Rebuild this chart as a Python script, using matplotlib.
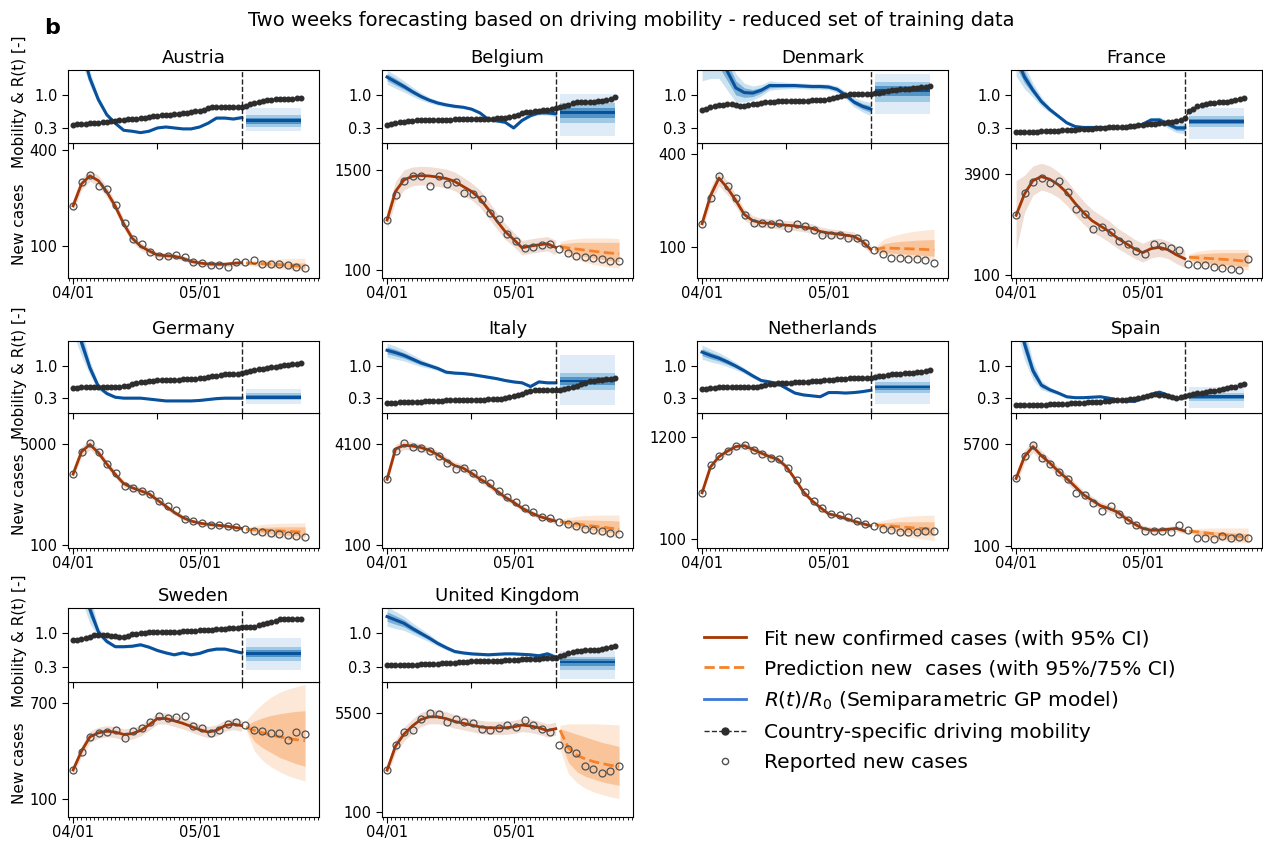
import numpy as np
import matplotlib.pyplot as plt
from matplotlib.lines import Line2D
from matplotlib.ticker import MultipleLocator

# day 0 = 04/01, forecast window starts after day 40
obs_day = np.linspace(0, 55, 28)
fit_day = np.arange(0, 41, 2)
fc_day = np.arange(41, 56, 2)
mob_day = np.arange(55)
rt_day = np.arange(0, 41, 2)
rt_fc_span = [41, 54]

countries = ["Austria", "Belgium", "Denmark", "France", "Germany",
             "Italy", "Netherlands", "Spain", "Sweden", "United Kingdom"]
case_tick = [400, 1500, 400, 3900, 5000, 4100, 1200, 5700, 700, 5500]

# ---------------- Austria
at_reported = [226, 302, 323, 289, 279, 228, 172, 123, 108, 81, 68, 68, 71, 66,
               49, 47, 42, 42, 35, 49, 49, 55, 45, 45, 44, 42, 34, 31]
at_fit = [226, 295, 320, 305, 270, 225, 170, 125, 100, 85, 72, 70, 68, 62, 52, 47, 44, 43, 43, 46, 48]
at_ci = [20, 18, 17, 17, 17, 16, 15, 13, 12, 10, 9, 9, 9, 8, 8, 8, 8, 8, 8, 8, 8]
at_fc_med = [47, 46, 45, 44, 42, 40, 38, 36]
at_fc_lo75 = [44, 41, 39, 37, 35, 33, 31, 29]
at_fc_hi75 = [50, 51, 51, 51, 50, 49, 48, 47]
at_fc_lo95 = [42, 37, 34, 31, 28, 26, 24, 22]
at_fc_hi95 = [52, 55, 57, 59, 60, 61, 62, 62]
at_mobility = [0.37, 0.38, 0.38, 0.39, 0.40, 0.41, 0.41, 0.42, 0.43, 0.44,
               0.45, 0.46, 0.47, 0.48, 0.49, 0.50, 0.51, 0.52, 0.53, 0.55,
               0.56, 0.57, 0.57, 0.58, 0.59, 0.60, 0.61, 0.62, 0.63, 0.65,
               0.66, 0.69, 0.72, 0.75, 0.75, 0.75, 0.74, 0.74, 0.74, 0.75,
               0.75, 0.77, 0.80, 0.83, 0.85, 0.87, 0.89, 0.90, 0.91, 0.91,
               0.92, 0.92, 0.92, 0.93, 0.93]
at_rt = [2.8, 2.0, 1.35, 0.9, 0.58, 0.40, 0.25, 0.23, 0.20, 0.23, 0.30,
         0.32, 0.30, 0.28, 0.28, 0.32, 0.40, 0.51, 0.51, 0.49, 0.52]
at_rt_spread = [0.5, 0.3, 0.15, 0.08, 0.05, 0.03, 0.02, 0.02, 0.02, 0.02, 0.02,
                0.02, 0.02, 0.02, 0.02, 0.02, 0.02, 0.03, 0.03, 0.03, 0.03]
at_rt_fc = [0.23, 0.33, 0.45, 0.58, 0.72]

# ---------------- Belgium
be_reported = [802, 1149, 1350, 1411, 1420, 1280, 1411, 1303, 1336, 1177, 1163, 1093, 905, 812,
               601, 507, 414, 428, 451, 465, 400, 339, 297, 278, 264, 255, 236, 231]
be_fit = [800, 1200, 1360, 1410, 1420, 1415, 1400, 1380, 1340, 1270, 1200,
          1100, 950, 790, 640, 531, 414, 437, 455, 470, 418]
be_ci = [130, 140, 140, 130, 130, 130, 130, 130, 130, 130, 120,
         120, 120, 110, 110, 100, 100, 100, 100, 100, 100]
be_fc_med = [430, 410, 395, 380, 365, 350, 340, 330]
be_fc_lo75 = [400, 350, 320, 290, 270, 250, 235, 220]
be_fc_hi75 = [470, 480, 490, 490, 490, 490, 490, 490]
be_fc_lo95 = [380, 300, 250, 210, 180, 160, 140, 130]
be_fc_hi95 = [500, 530, 540, 550, 550, 550, 550, 540]
be_mobility = [0.37, 0.39, 0.40, 0.42, 0.43, 0.45, 0.45, 0.46, 0.46, 0.46,
               0.46, 0.46, 0.47, 0.47, 0.47, 0.47, 0.48, 0.48, 0.49, 0.49,
               0.50, 0.50, 0.50, 0.50, 0.50, 0.50, 0.51, 0.51, 0.52, 0.54,
               0.56, 0.58, 0.61, 0.63, 0.64, 0.66, 0.67, 0.68, 0.69, 0.70,
               0.72, 0.74, 0.77, 0.79, 0.82, 0.84, 0.84, 0.85, 0.85, 0.86,
               0.87, 0.88, 0.90, 0.92, 0.95]
be_rt = [1.38, 1.28, 1.18, 1.07, 0.97, 0.89, 0.83, 0.79, 0.76, 0.74, 0.70,
         0.62, 0.48, 0.45, 0.42, 0.30, 0.46, 0.56, 0.62, 0.62, 0.60]
be_rt_spread = [0.15, 0.14, 0.12, 0.10, 0.08, 0.06, 0.05, 0.04, 0.04, 0.03, 0.03,
                0.03, 0.03, 0.03, 0.03, 0.03, 0.03, 0.03, 0.04, 0.05, 0.06]
be_rt_fc = [0.13, 0.40, 0.63, 0.82, 1.03]

# ---------------- Denmark
dk_reported = [175, 259, 330, 295, 257, 203, 178, 178, 173, 178, 162, 173, 167, 156,
               137, 138, 140, 130, 129, 113, 89, 77, 64, 63, 62, 62, 57, 48]
dk_fit = [175, 265, 322, 290, 250, 205, 185, 178, 176, 173, 170,
          168, 164, 160, 150, 145, 142, 138, 134, 118, 92]
dk_ci = [20, 25, 25, 22, 20, 18, 16, 15, 15, 15, 15, 15, 15, 15, 15, 14, 14, 14, 14, 14, 14]
dk_fc_med = [92, 97, 96, 95, 94, 93, 92, 90]
dk_fc_lo75 = [85, 82, 80, 78, 76, 74, 72, 70]
dk_fc_hi75 = [95, 110, 115, 118, 120, 122, 123, 124]
dk_fc_lo95 = [82, 75, 70, 66, 63, 60, 58, 56]
dk_fc_hi95 = [100, 125, 135, 142, 148, 152, 155, 157]
dk_mobility = [0.68, 0.71, 0.74, 0.76, 0.78, 0.79, 0.80, 0.80, 0.79, 0.77,
               0.76, 0.78, 0.80, 0.81, 0.83, 0.84, 0.85, 0.86, 0.87, 0.87,
               0.88, 0.88, 0.88, 0.88, 0.88, 0.88, 0.89, 0.89, 0.90, 0.90,
               0.91, 0.93, 0.96, 0.98, 0.99, 1.01, 1.02, 1.02, 1.03, 1.03,
               1.03, 1.04, 1.05, 1.07, 1.09, 1.10, 1.11, 1.12, 1.12, 1.13,
               1.14, 1.15, 1.16, 1.17, 1.18]
dk_rt = [1.9, 1.9, 1.85, 1.5, 1.15, 1.05, 1.04, 1.10, 1.20, 1.20, 1.20,
         1.20, 1.19, 1.18, 1.18, 1.17, 1.12, 1.00, 0.85, 0.76, 0.70]
dk_rt_spread = [0.6, 0.55, 0.5, 0.4, 0.3, 0.2, 0.15, 0.12, 0.10, 0.08, 0.07,
                0.06, 0.06, 0.06, 0.06, 0.06, 0.07, 0.08, 0.10, 0.12, 0.14]
dk_rt_fc = [0.59, 0.86, 1.10, 1.27, 1.44]

# ---------------- France
fr_reported = [2359, 3180, 3584, 3748, 3559, 3647, 3230, 2599, 2384, 1842, 1905, 1716, 1375, 1286,
               996, 895, 1261, 1185, 1122, 1034, 516, 491, 491, 428, 365, 352, 302, 706]
fr_fit = [2350, 3150, 3650, 3800, 3700, 3500, 3200, 2800, 2450, 2150, 1950,
          1750, 1500, 1300, 1100, 950, 1100, 1150, 1060, 870, 720]
fr_ci = [1300, 700, 550, 500, 500, 480, 470, 450, 430, 420, 400,
         400, 380, 370, 360, 350, 350, 340, 330, 330, 330]
fr_fc_med = [780, 760, 740, 720, 700, 680, 650, 620]
fr_fc_lo75 = [700, 600, 560, 530, 500, 480, 450, 430]
fr_fc_hi75 = [850, 900, 920, 940, 950, 950, 950, 950]
fr_fc_lo95 = [650, 480, 420, 380, 350, 330, 310, 300]
fr_fc_hi95 = [900, 1000, 1050, 1070, 1080, 1080, 1080, 1070]
fr_mobility = [0.21, 0.21, 0.21, 0.22, 0.22, 0.22, 0.23, 0.23, 0.23, 0.24,
               0.24, 0.25, 0.25, 0.26, 0.26, 0.27, 0.27, 0.28, 0.28, 0.29,
               0.30, 0.30, 0.31, 0.31, 0.32, 0.32, 0.33, 0.34, 0.35, 0.36,
               0.37, 0.38, 0.39, 0.39, 0.40, 0.41, 0.42, 0.43, 0.44, 0.47,
               0.51, 0.65, 0.71, 0.76, 0.79, 0.81, 0.82, 0.83, 0.84, 0.85,
               0.86, 0.88, 0.90, 0.91, 0.93]
fr_rt = [1.8, 1.38, 1.10, 0.86, 0.69, 0.55, 0.41, 0.33, 0.31, 0.31, 0.31,
         0.31, 0.31, 0.30, 0.31, 0.38, 0.47, 0.47, 0.38, 0.30, 0.30]
fr_rt_spread = [0.4, 0.25, 0.15, 0.10, 0.06, 0.04, 0.03, 0.02, 0.02, 0.02, 0.02,
                0.02, 0.02, 0.02, 0.03, 0.04, 0.05, 0.06, 0.08, 0.10, 0.12]
fr_rt_fc = [0.07, 0.32, 0.44, 0.56, 0.72]

# ---------------- Germany
de_reported = [3560, 4622, 5063, 4622, 4050, 3592, 2988, 2874, 2743, 2612, 2253, 2008, 1795, 1356,
               1274, 1193, 1111, 1078, 1029, 980, 915, 817, 751, 702, 654, 621, 539, 523]
de_fit = [3560, 4650, 5000, 4600, 4050, 3550, 3100, 2900, 2750, 2600, 2300,
          2000, 1700, 1450, 1280, 1180, 1120, 1080, 1040, 980, 920]
de_ci = [200, 250, 250, 200, 180, 170, 160, 160, 160, 160, 150,
         140, 130, 120, 110, 100, 100, 100, 100, 100, 100]
de_fc_med = [880, 860, 840, 820, 800, 780, 760, 740]
de_fc_lo75 = [840, 760, 700, 650, 620, 590, 560, 540]
de_fc_hi75 = [920, 960, 980, 990, 1000, 1000, 1000, 1000]
de_fc_lo95 = [800, 650, 560, 500, 460, 420, 400, 380]
de_fc_hi95 = [950, 1060, 1120, 1150, 1170, 1180, 1190, 1190]
de_mobility = [0.51, 0.52, 0.53, 0.54, 0.55, 0.55, 0.55, 0.55, 0.55, 0.55,
               0.55, 0.55, 0.56, 0.57, 0.60, 0.62, 0.64, 0.65, 0.66, 0.67,
               0.68, 0.68, 0.69, 0.69, 0.70, 0.70, 0.71, 0.71, 0.72, 0.72,
               0.73, 0.74, 0.76, 0.77, 0.78, 0.80, 0.81, 0.82, 0.83, 0.83,
               0.84, 0.86, 0.88, 0.90, 0.92, 0.93, 0.95, 0.97, 0.98, 0.99,
               1.01, 1.02, 1.03, 1.04, 1.06]
de_rt = [2.2, 1.5, 0.95, 0.55, 0.40, 0.32, 0.30, 0.30, 0.30, 0.28, 0.26,
         0.24, 0.24, 0.24, 0.24, 0.25, 0.27, 0.29, 0.30, 0.30, 0.30]
de_rt_spread = [0.5, 0.3, 0.15, 0.08, 0.04, 0.03, 0.02, 0.02, 0.02, 0.02, 0.02,
                0.02, 0.02, 0.02, 0.02, 0.02, 0.02, 0.03, 0.03, 0.03, 0.03]
de_rt_fc = [0.18, 0.25, 0.32, 0.40, 0.49]

# ---------------- Italy
it_reported = [2705, 3835, 4127, 3967, 3928, 3835, 3635, 3369, 3103, 3170, 2944, 2705, 2545, 2239,
               2014, 1801, 1575, 1415, 1216, 1176, 1043, 937, 884, 764, 711, 671, 578, 538]
it_fit = [2705, 3900, 4050, 4020, 3960, 3850, 3680, 3450, 3250, 3150, 2950,
          2720, 2520, 2250, 2000, 1800, 1570, 1400, 1250, 1150, 1060]
it_ci = [150, 180, 170, 160, 150, 150, 150, 150, 150, 150, 150,
         140, 140, 130, 130, 120, 120, 110, 110, 110, 110]
it_fc_med = [1040, 990, 950, 900, 860, 820, 780, 740]
it_fc_lo75 = [1000, 890, 820, 760, 700, 650, 610, 570]
it_fc_hi75 = [1080, 1100, 1110, 1110, 1100, 1090, 1080, 1060]
it_fc_lo95 = [960, 800, 700, 620, 550, 490, 440, 400]
it_fc_hi95 = [1120, 1200, 1250, 1280, 1290, 1300, 1300, 1300]
it_mobility = [0.20, 0.20, 0.20, 0.21, 0.21, 0.21, 0.22, 0.22, 0.22, 0.23,
               0.23, 0.23, 0.24, 0.24, 0.25, 0.25, 0.25, 0.26, 0.26, 0.26,
               0.27, 0.27, 0.27, 0.27, 0.28, 0.28, 0.28, 0.29, 0.30, 0.32,
               0.34, 0.36, 0.39, 0.43, 0.46, 0.47, 0.47, 0.47, 0.47, 0.47,
               0.47, 0.48, 0.49, 0.52, 0.55, 0.57, 0.60, 0.63, 0.66, 0.67,
               0.68, 0.70, 0.71, 0.72, 0.73]
it_rt = [1.33, 1.28, 1.22, 1.14, 1.06, 1.00, 0.94, 0.86, 0.84, 0.83, 0.81,
         0.78, 0.75, 0.72, 0.68, 0.65, 0.63, 0.55, 0.65, 0.63, 0.63]
it_rt_spread = [0.15, 0.14, 0.12, 0.10, 0.08, 0.06, 0.05, 0.04, 0.03, 0.03, 0.03,
                0.03, 0.03, 0.03, 0.03, 0.03, 0.03, 0.03, 0.03, 0.03, 0.03]
it_rt_fc = [0.15, 0.48, 0.67, 0.85, 1.22]

# ---------------- Netherlands
nl_reported = [599, 895, 998, 1053, 1108, 1116, 1064, 1024, 980, 962, 870, 742, 606, 511,
               437, 364, 360, 331, 294, 265, 239, 210, 192, 173, 173, 173, 184, 181]
nl_fit = [599, 880, 990, 1050, 1100, 1110, 1070, 1030, 990, 960, 880,
          750, 610, 515, 440, 370, 350, 320, 290, 265, 240]
nl_ci = [30, 35, 35, 35, 35, 35, 35, 35, 35, 30, 30, 30, 30, 25, 25, 25, 25, 25, 25, 25, 25]
nl_fc_med = [250, 245, 238, 230, 222, 215, 209, 203]
nl_fc_lo75 = [238, 215, 195, 180, 165, 155, 145, 135]
nl_fc_hi75 = [262, 275, 280, 285, 285, 285, 285, 285]
nl_fc_lo95 = [228, 190, 165, 140, 120, 105, 92, 82]
nl_fc_hi95 = [275, 300, 320, 335, 345, 350, 355, 357]
nl_mobility = [0.49, 0.50, 0.51, 0.52, 0.53, 0.54, 0.54, 0.54, 0.53, 0.53,
               0.53, 0.53, 0.54, 0.55, 0.56, 0.58, 0.60, 0.61, 0.62, 0.62,
               0.63, 0.63, 0.64, 0.64, 0.65, 0.65, 0.66, 0.67, 0.67, 0.68,
               0.69, 0.70, 0.71, 0.72, 0.72, 0.73, 0.73, 0.73, 0.73, 0.73,
               0.73, 0.75, 0.77, 0.78, 0.80, 0.82, 0.83, 0.83, 0.84, 0.84,
               0.85, 0.86, 0.87, 0.89, 0.90]
nl_rt = [1.29, 1.22, 1.16, 1.08, 0.99, 0.89, 0.78, 0.68, 0.65, 0.61, 0.51,
         0.41, 0.37, 0.35, 0.33, 0.42, 0.42, 0.41, 0.42, 0.44, 0.47]
nl_rt_spread = [0.15, 0.14, 0.12, 0.10, 0.08, 0.06, 0.05, 0.04, 0.03, 0.03, 0.03,
                0.03, 0.03, 0.02, 0.02, 0.02, 0.02, 0.02, 0.02, 0.02, 0.03]
nl_rt_fc = [0.17, 0.41, 0.54, 0.64, 0.85]

# ---------------- Spain
es_reported = [3798, 5054, 5663, 4906, 4592, 4130, 3742, 3003, 2873, 2448, 1986, 2263, 1857, 1488,
               1210, 933, 933, 896, 841, 1210, 988, 507, 507, 452, 618, 507, 600, 507]
es_fit = [3798, 5000, 5550, 5050, 4650, 4200, 3800, 3350, 2900, 2600, 2300,
          2150, 1950, 1600, 1300, 1050, 950, 950, 1000, 1050, 900]
es_ci = [350, 350, 320, 280, 260, 250, 250, 240, 230, 220, 210,
         200, 200, 190, 180, 170, 170, 160, 160, 160, 160]
es_fc_med = [900, 860, 800, 750, 700, 650, 600, 550]
es_fc_lo75 = [850, 720, 620, 540, 480, 430, 390, 350]
es_fc_hi75 = [950, 950, 920, 880, 850, 820, 790, 760]
es_fc_lo95 = [800, 600, 480, 400, 340, 300, 270, 250]
es_fc_hi95 = [1000, 1050, 1060, 1070, 1070, 1070, 1070, 1070]
es_mobility = [0.15, 0.15, 0.15, 0.15, 0.16, 0.16, 0.16, 0.16, 0.17, 0.17,
               0.17, 0.18, 0.18, 0.19, 0.19, 0.20, 0.20, 0.21, 0.21, 0.22,
               0.22, 0.23, 0.24, 0.25, 0.26, 0.27, 0.27, 0.28, 0.29, 0.30,
               0.32, 0.34, 0.36, 0.38, 0.37, 0.36, 0.35, 0.33, 0.31, 0.32,
               0.35, 0.36, 0.38, 0.40, 0.41, 0.43, 0.45, 0.46, 0.48, 0.49,
               0.51, 0.53, 0.55, 0.58, 0.60]
es_rt = [2.3, 1.47, 0.89, 0.58, 0.48, 0.41, 0.33, 0.31, 0.31, 0.32, 0.33,
         0.30, 0.26, 0.24, 0.23, 0.29, 0.38, 0.43, 0.36, 0.28, 0.31]
es_rt_spread = [0.5, 0.35, 0.2, 0.10, 0.06, 0.04, 0.03, 0.02, 0.02, 0.02, 0.02,
                0.02, 0.03, 0.03, 0.03, 0.03, 0.04, 0.04, 0.04, 0.04, 0.04]
es_rt_fc = [0.08, 0.24, 0.33, 0.41, 0.55]

# ---------------- Sweden
se_reported = [282, 395, 491, 512, 518, 534, 483, 524, 545, 580, 621, 610, 615, 621,
               555, 545, 516, 534, 569, 580, 565, 534, 528, 512, 512, 471, 518, 508]
se_fit = [282, 400, 490, 515, 525, 520, 505, 510, 530, 565, 605,
          605, 590, 575, 555, 535, 520, 530, 560, 570, 560]
se_ci = [30, 35, 35, 35, 35, 35, 35, 35, 35, 35, 35, 35, 35, 35, 35, 35, 35, 35, 35, 35, 35]
se_fc_med = [549, 530, 515, 500, 490, 480, 472, 467]
se_fc_lo75 = [541, 460, 420, 390, 360, 340, 320, 306]
se_fc_hi75 = [562, 590, 610, 625, 635, 643, 650, 654]
se_fc_lo95 = [531, 400, 340, 300, 270, 245, 228, 213]
se_fc_hi95 = [593, 650, 700, 740, 770, 790, 805, 819]
se_mobility = [0.86, 0.87, 0.88, 0.90, 0.93, 0.97, 0.97, 0.97, 0.97, 0.95,
               0.94, 0.93, 0.93, 0.95, 0.98, 0.99, 1.00, 1.01, 1.02, 1.02,
               1.03, 1.03, 1.03, 1.03, 1.03, 1.03, 1.04, 1.04, 1.05, 1.05,
               1.06, 1.06, 1.07, 1.07, 1.08, 1.08, 1.10, 1.11, 1.12, 1.12,
               1.13, 1.13, 1.14, 1.14, 1.17, 1.20, 1.22, 1.24, 1.26, 1.29,
               1.31, 1.31, 1.30, 1.30, 1.30]
se_rt = [2.6, 2.2, 1.5, 1.03, 0.83, 0.72, 0.72, 0.73, 0.76, 0.71, 0.64,
         0.59, 0.55, 0.59, 0.55, 0.58, 0.64, 0.67, 0.67, 0.63, 0.59]
se_rt_spread = [0.6, 0.5, 0.3, 0.10, 0.05, 0.03, 0.03, 0.03, 0.03, 0.03, 0.03,
                0.03, 0.03, 0.03, 0.03, 0.03, 0.03, 0.03, 0.03, 0.03, 0.03]
se_rt_fc = [0.23, 0.43, 0.57, 0.71, 0.90]

# ---------------- United Kingdom
uk_reported = [2389, 3766, 4445, 4606, 5196, 5518, 5428, 5017, 5160, 5017, 4964, 4660, 4570, 4713,
               4838, 4749, 5107, 4838, 4624, 4481, 3766, 3552, 3318, 2639, 2478, 2246, 2335, 2603]
uk_fit = [2389, 3700, 4350, 4800, 5150, 5300, 5300, 5200, 5050, 4950, 4850,
          4750, 4700, 4700, 4700, 4750, 4850, 4800, 4700, 4550, 4650]
uk_ci = [300, 360, 380, 380, 380, 380, 380, 380, 370, 360, 360,
         360, 360, 360, 360, 360, 360, 360, 360, 360, 360]
uk_fc_med = [4570, 3600, 3200, 3000, 2850, 2750, 2650, 2600]
uk_fc_lo75 = [4000, 2800, 2300, 2050, 1900, 1750, 1650, 1566]
uk_fc_hi75 = [4660, 4500, 4350, 4200, 4050, 3900, 3800, 3676]
uk_fc_lo95 = [3500, 2200, 1700, 1400, 1200, 1050, 930, 850]
uk_fc_hi95 = [4840, 4920, 4920, 4920, 4920, 4900, 4880, 4860]
uk_mobility = [0.33, 0.33, 0.33, 0.33, 0.34, 0.34, 0.34, 0.34, 0.35, 0.35,
               0.35, 0.36, 0.36, 0.37, 0.37, 0.38, 0.38, 0.39, 0.40, 0.40,
               0.41, 0.41, 0.41, 0.42, 0.42, 0.42, 0.43, 0.43, 0.44, 0.44,
               0.45, 0.45, 0.46, 0.46, 0.47, 0.47, 0.47, 0.48, 0.48, 0.48,
               0.49, 0.52, 0.55, 0.58, 0.60, 0.62, 0.63, 0.64, 0.65, 0.65,
               0.66, 0.68, 0.70, 0.71, 0.73]
uk_rt = [1.35, 1.28, 1.21, 1.10, 1.00, 0.90, 0.79, 0.70, 0.62, 0.59, 0.57,
         0.56, 0.55, 0.56, 0.57, 0.57, 0.56, 0.55, 0.53, 0.57, 0.50]
uk_rt_spread = [0.2, 0.18, 0.15, 0.12, 0.10, 0.08, 0.06, 0.05, 0.04, 0.03, 0.03,
                0.03, 0.03, 0.03, 0.03, 0.03, 0.03, 0.03, 0.04, 0.05, 0.05]
uk_rt_fc = [0.05, 0.23, 0.40, 0.51, 0.62]

series = [
    (at_reported, at_fit, at_ci, at_fc_med, at_fc_lo75, at_fc_hi75, at_fc_lo95, at_fc_hi95, at_mobility, at_rt, at_rt_spread, at_rt_fc),
    (be_reported, be_fit, be_ci, be_fc_med, be_fc_lo75, be_fc_hi75, be_fc_lo95, be_fc_hi95, be_mobility, be_rt, be_rt_spread, be_rt_fc),
    (dk_reported, dk_fit, dk_ci, dk_fc_med, dk_fc_lo75, dk_fc_hi75, dk_fc_lo95, dk_fc_hi95, dk_mobility, dk_rt, dk_rt_spread, dk_rt_fc),
    (fr_reported, fr_fit, fr_ci, fr_fc_med, fr_fc_lo75, fr_fc_hi75, fr_fc_lo95, fr_fc_hi95, fr_mobility, fr_rt, fr_rt_spread, fr_rt_fc),
    (de_reported, de_fit, de_ci, de_fc_med, de_fc_lo75, de_fc_hi75, de_fc_lo95, de_fc_hi95, de_mobility, de_rt, de_rt_spread, de_rt_fc),
    (it_reported, it_fit, it_ci, it_fc_med, it_fc_lo75, it_fc_hi75, it_fc_lo95, it_fc_hi95, it_mobility, it_rt, it_rt_spread, it_rt_fc),
    (nl_reported, nl_fit, nl_ci, nl_fc_med, nl_fc_lo75, nl_fc_hi75, nl_fc_lo95, nl_fc_hi95, nl_mobility, nl_rt, nl_rt_spread, nl_rt_fc),
    (es_reported, es_fit, es_ci, es_fc_med, es_fc_lo75, es_fc_hi75, es_fc_lo95, es_fc_hi95, es_mobility, es_rt, es_rt_spread, es_rt_fc),
    (se_reported, se_fit, se_ci, se_fc_med, se_fc_lo75, se_fc_hi75, se_fc_lo95, se_fc_hi95, se_mobility, se_rt, se_rt_spread, se_rt_fc),
    (uk_reported, uk_fit, uk_ci, uk_fc_med, uk_fc_lo75, uk_fc_hi75, uk_fc_lo95, uk_fc_hi95, uk_mobility, uk_rt, uk_rt_spread, uk_rt_fc),
]

# panel geometry in pixels
W, H = 1263, 842
col_x = [68, 382, 697, 1011]
col_w = 251
row_top = [70, 341, 608]
top_h = [73, 72, 74]
bot_h = [135, 135, 135]
case_ylim = [(0, 423), (-8, 1875), (0, 435), (0, 5060), (-30, 6530),
             (0, 5320), (0, 1464), (-30, 7400), (-13, 834), (-168, 7200)]

C_FIT = '#a63603'
C_FC = '#f5822a'
C_BLUE = '#08519c'
XLIM = (-1.2, 58.3)

plt.rcParams['font.family'] = 'DejaVu Sans'
fig = plt.figure(figsize=(W / 100, H / 100), dpi=100)


def box(x, y, w, h):
    return [x / W, 1 - (y + h) / H, w / W, h / H]


for i, name in enumerate(countries):
    (reported, fit, ci, fc_med, fc_lo75, fc_hi75, fc_lo95, fc_hi95,
     mob, rt, rt_sp, rt_fc) = [np.asarray(a, dtype=float) for a in series[i]]
    r, c = divmod(i, 4)
    x0 = col_x[c]
    y0 = row_top[r]

    # new cases panel
    axc = fig.add_axes(box(x0, y0 + top_h[r], col_w, bot_h[r]))
    axc.fill_between(fit_day, fit - ci, fit + ci, color=C_FIT, alpha=0.17, lw=0)
    axc.plot(fit_day, fit, color=C_FIT, lw=2)
    axc.fill_between(fc_day, fc_lo95, fc_hi95, color=C_FC, alpha=0.18, lw=0)
    axc.fill_between(fc_day, fc_lo75, fc_hi75, color=C_FC, alpha=0.35, lw=0)
    axc.plot(fc_day, fc_med, '--', color=C_FC, lw=2)
    axc.plot(obs_day, reported, 'o', mfc='none', mec='#505050', ms=5, mew=0.9)
    axc.set_xlim(XLIM)
    axc.set_ylim(case_ylim[i])
    axc.set_yticks([case_tick[i], 100])
    axc.set_yticklabels([str(case_tick[i]), '100'])
    axc.set_xticks([0, 30])
    axc.set_xticklabels(['04/01', '05/01'])
    axc.xaxis.set_minor_locator(MultipleLocator(1))
    axc.tick_params(labelsize=10.5, length=4)
    axc.tick_params(axis='x', pad=1.5)
    axc.tick_params(which='minor', length=2.5)
    if c == 0:
        axc.set_ylabel('New cases', fontsize=11)
        axc.yaxis.set_label_coords(-0.165, 0.40)

    # mobility and R(t) panel
    axr = fig.add_axes(box(x0, y0, col_w, top_h[r]))
    axr.fill_between(rt_day, rt - rt_sp, rt + rt_sp, color='#6baed6', alpha=0.35, lw=0)
    axr.fill_between(rt_day, rt - rt_sp / 2, rt + rt_sp / 2, color='#2171b5', alpha=0.45, lw=0)
    axr.plot(rt_day, rt, color=C_BLUE, lw=2.2)
    lo95, lo75, med, hi75, hi95 = rt_fc
    axr.fill_between(rt_fc_span, lo95, hi95, color='#c6dbef', alpha=0.55, lw=0)
    axr.fill_between(rt_fc_span, lo75, hi75, color='#6baed6', alpha=0.55, lw=0)
    axr.fill_between(rt_fc_span, (lo75 + med) / 2, (hi75 + med) / 2, color='#2171b5', alpha=0.6, lw=0)
    axr.fill_between(rt_fc_span, med - 0.03, med + 0.03, color=C_BLUE, lw=0)
    axr.plot(mob_day, mob, '--o', color='#2d2d2d', ms=3.3, lw=0.9)
    axr.axvline(40, color='#222222', ls='--', lw=1)
    axr.set_xlim(XLIM)
    axr.set_ylim(-0.02, 1.53)
    axr.set_yticks([0.3, 1.0])
    axr.set_yticklabels(['0.3', '1.0'])
    axr.set_xticks([0, 20, 40])
    axr.tick_params(labelbottom=False, labelsize=10.5, length=4)
    axr.set_title(name, fontsize=13, pad=5)
    if c == 0:
        axr.set_ylabel('Mobility & R(t) [-]', fontsize=11)
        axr.yaxis.set_label_coords(-0.165, 0.56)

fig.text(0.5, 1 - 20 / H, 'Two weeks forecasting based on driving mobility - reduced set of training data',
         ha='center', va='center', fontsize=14)
fig.text(44 / W, 1 - 28 / H, 'b', ha='left', va='center', fontsize=16, fontweight='bold')

handles = [
    Line2D([], [], color=C_FIT, lw=2),
    Line2D([], [], color=C_FC, lw=2, ls='--'),
    Line2D([], [], color='#3b78d8', lw=2),
    Line2D([], [], color='#2d2d2d', lw=1, ls='--', marker='o', ms=5),
    Line2D([], [], color='none', marker='o', mfc='none', mec='#505050', ms=4.5),
]
labels = [
    'Fit new confirmed cases (with 95% CI)',
    'Prediction new  cases (with 95%/75% CI)',
    r'$R(t)/R_0$ (Semiparametric GP model)',
    'Country-specific driving mobility',
    'Reported new cases',
]
fig.legend(handles, labels, loc='upper left', bbox_to_anchor=(696 / W, 1 - 621 / H),
           frameon=False, fontsize=14.5, labelspacing=0.55, handlelength=2.1,
           handletextpad=0.9, borderaxespad=0)

fig.savefig('out.png', dpi=100)
